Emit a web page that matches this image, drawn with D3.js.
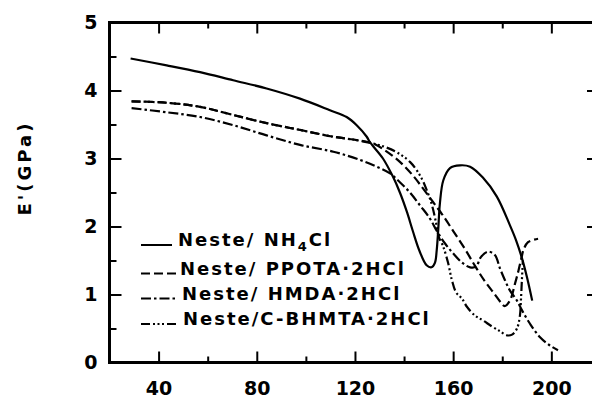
<!DOCTYPE html>
<html><head><meta charset="utf-8">
<script src="https://cdn.jsdelivr.net/npm/d3@7"></script>
<style>
body{margin:0;background:#fff;}
svg{display:block;}
text{font-family:"DejaVu Sans",sans-serif;font-weight:bold;fill:#000;}
</style></head><body>
<svg id="chart" width="592" height="399"></svg>
<script>
// ---- data ----
const xTicksMajor = [40, 80, 120, 160, 200];
const xTicksMinor = [60, 100, 140, 180];
const yTicksMajor = [0, 1, 2, 3, 4, 5];
const yTicksMinor = [0.5, 1.5, 2.5, 3.5, 4.5];
const yTitle = "E'(GPa)";

const nh4cl = [[28.6,4.47],[43.3,4.37],[56.9,4.27],[70.4,4.15],[84.0,4.03],[97.6,3.88],[109.8,3.71],[116.6,3.61],[120.7,3.49],[124.8,3.32],[126.1,3.24],[131.4,3.00],[135.5,2.73],[138.3,2.50],[141.2,2.21],[143.6,1.93],[146.3,1.64],[149.2,1.43],[151.2,1.40],[152.6,1.47],[153.3,1.65],[153.9,1.94],[154.6,2.34],[156.0,2.68],[158.7,2.86],[162.8,2.90],[166.9,2.88],[172.1,2.72],[177.8,2.44],[183.1,2.02],[185.6,1.80],[187.9,1.55],[190.1,1.25],[192.2,0.91]];
const ppota = [[29.0,3.84],[43.3,3.82],[56.9,3.76],[70.4,3.64],[84.0,3.52],[97.6,3.42],[111.2,3.32],[120.7,3.27],[127.5,3.22],[132.2,3.12],[138.3,2.95],[143.6,2.75],[147.7,2.56],[151.8,2.36],[155.5,2.18],[159.9,1.94],[164.8,1.67],[168.9,1.42],[173.0,1.19],[176.6,1.02],[179.5,0.88],[181.0,0.83],[183.1,0.91],[185.2,1.16],[186.6,1.35],[187.9,1.55],[188.6,1.65],[190.5,1.77],[194.6,1.82]];
const hmda = [[29.0,3.74],[43.3,3.68],[56.9,3.61],[70.4,3.49],[84.0,3.34],[97.6,3.20],[111.2,3.10],[122.0,2.98],[128.8,2.88],[134.3,2.78],[138.3,2.65],[142.4,2.50],[146.5,2.31],[150.5,2.12],[153.4,1.93],[156.7,1.75],[159.9,1.61],[163.6,1.47],[166.9,1.40],[169.3,1.41],[171.3,1.55],[174.2,1.63],[177.0,1.58],[179.1,1.38],[181.1,1.21],[183.1,1.06],[186.0,0.91],[188.0,0.77],[191.3,0.57],[195.4,0.37],[199.4,0.25],[202.7,0.18]];
const cbhmta = [[29.0,3.84],[43.3,3.82],[56.9,3.76],[70.4,3.64],[84.0,3.52],[97.6,3.42],[111.2,3.32],[120.7,3.27],[127.5,3.22],[132.2,3.17],[137.1,3.09],[142.4,2.95],[146.5,2.75],[149.3,2.53],[151.4,2.31],[153.0,2.06],[154.2,1.84],[155.8,1.72],[157.9,1.47],[159.5,1.21],[161.2,1.03],[163.6,0.94],[165.6,0.82],[168.9,0.69],[172.1,0.62],[175.8,0.53],[179.1,0.46],[181.9,0.40],[184.0,0.41],[186.0,0.50],[187.2,0.69],[187.6,0.91],[188.0,1.21],[188.4,1.50]];

const seriesData = [nh4cl, ppota, hmda, cbhmta];
const legendParts = [
  [["Neste/ NH",0],["4",1],["Cl",0]],
  [["Neste/ PPOTA\u00B72HCl",0]],
  [["Neste/ HMDA\u00B72HCl",0]],
  [["Neste/C-BHMTA\u00B72HCl",0]]
];
const dashes = [null, "9,4", "10,3,2.5,3", "9,3,2,2.5,2,2.5,2,3"];

// ---- drawing ----
const svg = d3.select("#chart");
const x = d3.scaleLinear().domain([20, 218.6]).range([109.5, 597]);
const y = d3.scaleLinear().domain([0, 5]).range([362.5, 22.5]);

function styleAxis(g){
  g.select(".domain").remove();
  g.selectAll(".tick line").attr("stroke","#000").attr("stroke-width",2);
  g.selectAll(".tick text").style("font-family","'DejaVu Sans',sans-serif").style("font-weight","bold").style("font-size","19px").attr("fill","#000");
}

svg.append("g").attr("transform","translate(0,362.5)")
  .call(d3.axisBottom(x).tickValues(xTicksMajor).tickSize(-11).tickPadding(19).tickFormat(d3.format("d"))).call(styleAxis);
svg.append("g").attr("transform","translate(0,362.5)")
  .call(d3.axisBottom(x).tickValues(xTicksMinor).tickSize(-6).tickFormat("")).call(styleAxis);
svg.append("g").attr("transform","translate(0,22.5)")
  .call(d3.axisTop(x).tickValues(xTicksMajor).tickSize(-11).tickFormat("")).call(styleAxis);
svg.append("g").attr("transform","translate(0,22.5)")
  .call(d3.axisTop(x).tickValues(xTicksMinor).tickSize(-6).tickFormat("")).call(styleAxis);
svg.append("g").attr("transform","translate(109.5,0)")
  .call(d3.axisLeft(y).tickValues(yTicksMajor).tickSize(-12).tickPadding(12).tickFormat(d3.format("d"))).call(styleAxis);
svg.append("g").attr("transform","translate(109.5,0)")
  .call(d3.axisLeft(y).tickValues(yTicksMinor).tickSize(-7).tickFormat("")).call(styleAxis);
svg.append("g").attr("transform","translate(597,0)")
  .call(d3.axisRight(y).tickValues([1,2,3,4]).tickSize(-10).tickFormat("")).call(styleAxis);

// frame
svg.append("path")
  .attr("d", `M${x.range()[0]},${y.range()[1]}H${x.range()[1]}V${y.range()[0]}H${x.range()[0]}Z`)
  .attr("fill","none").attr("stroke","#000").attr("stroke-width",3);

// y title
svg.append("text").attr("transform","translate(30.5,168) rotate(-90)")
  .attr("text-anchor","middle").style("font-size","18px").style("letter-spacing","3px")
  .text(yTitle);

// curves
const line = d3.line().x(d => x(d[0])).y(d => y(d[1])).curve(d3.curveCatmullRom.alpha(0.5));
seriesData.forEach((s, i) => {
  svg.append("path").datum(s).attr("d", line)
    .attr("fill","none").attr("stroke","#000").attr("stroke-width",2.2)
    .attr("stroke-dasharray", dashes[i]);
});

// legend
const legX0 = 141, legX1 = 178;
const legBase = [246, 274.5, 299.5, 325];
const legTextX = [178, 180, 182, 183];
legendParts.forEach((parts, i) => {
  svg.append("line").attr("x1",legX0).attr("x2",legX1 - (i===0?6:0))
    .attr("y1",legBase[i]-1).attr("y2",legBase[i]-1)
    .attr("stroke","#000").attr("stroke-width",2).attr("stroke-dasharray",dashes[i]);
  const t = svg.append("text").attr("x",legTextX[i]).attr("y",legBase[i])
    .style("font-size","18px").style("letter-spacing","2px");
  parts.forEach(p => {
    const ts = t.append("tspan").text(p[0]);
    if (p[1]) ts.attr("dy",5).style("font-size","13px");
    else if (parts.length>1 && p!==parts[0]) ts.attr("dy",-5);
  });
});
</script>
</body></html>
